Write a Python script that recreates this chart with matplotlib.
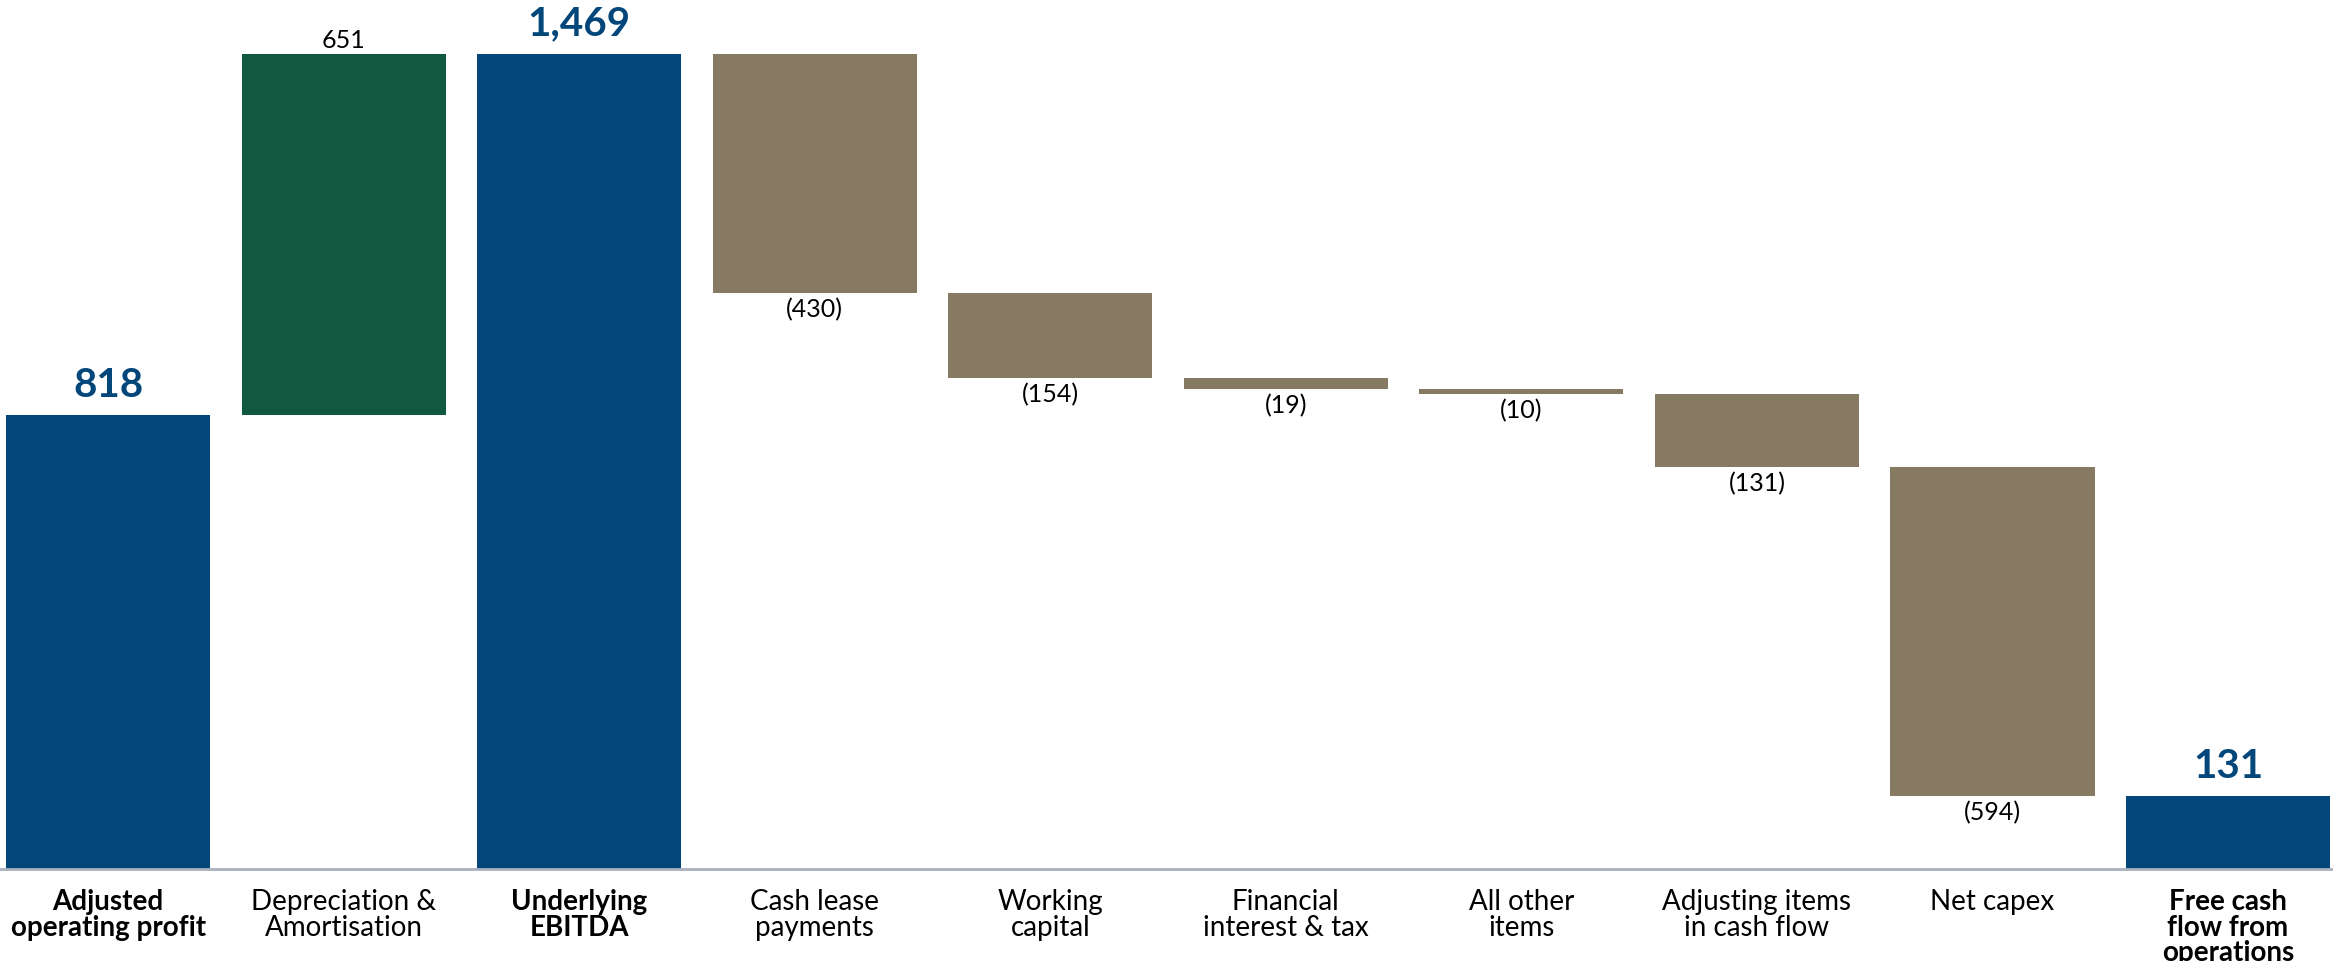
import numpy as np
import matplotlib
matplotlib.use("Agg")
import matplotlib.pyplot as plt

plt.rcParams["font.family"] = ["Lato", "DejaVu Sans"]

# Waterfall data (GBP m)
categories = [
    "Adjusted\noperating profit",
    "Depreciation &\nAmortisation",
    "Underlying\nEBITDA",
    "Cash lease\npayments",
    "Working\ncapital",
    "Financial\ninterest & tax",
    "All other\nitems",
    "Adjusting items\nin cash flow",
    "Net capex",
    "Free cash\nflow from\noperations",
]
values = [818, 651, 1469, -430, -154, -19, -10, -131, -594, 131]
is_total = [True, False, True, False, False, False, False, False, False, True]

BLUE = "#02467a"
GREEN = "#10583f"
TAN = "#867b62"

# bar bottoms / heights from running total
bottoms, heights, colors = [], [], []
running = 0
for v, tot in zip(values, is_total):
    if tot:
        bottoms.append(0)
        heights.append(v)
        colors.append(BLUE)
        running = v
    else:
        if v >= 0:
            bottoms.append(running)
            colors.append(GREEN)
        else:
            bottoms.append(running + v)
            colors.append(TAN)
        heights.append(abs(v))
        running += v

fig = plt.figure(figsize=(23.33, 9.62), dpi=100)
ax = fig.add_axes([0, (962 - 870) / 962, 1, 870 / 962])

x = np.arange(len(values))
width = 0.867
ax.bar(x, heights, width, bottom=bottoms, color=colors, zorder=2)

ax.set_xlim(-0.459, 9.446)
ax.set_ylim(0, 1568)
for s in ax.spines.values():
    s.set_visible(False)
ax.axhline(0, color="#aab1bd", lw=2, zorder=3, clip_on=False)
ax.set_xticks([])
ax.set_yticks([])

# value labels
for i, (v, tot) in enumerate(zip(values, is_total)):
    top = bottoms[i] + heights[i]
    if tot:
        ax.annotate(f"{v:,}", (x[i], top), xytext=(0, 9), textcoords="offset points",
                    ha="center", va="bottom", fontsize=29, fontweight="bold", color=BLUE)
    elif v >= 0:
        ax.annotate(f"{v:,}", (x[i], top), xytext=(0, 2), textcoords="offset points",
                    ha="center", va="bottom", fontsize=18, color="black")
    else:
        ax.annotate(f"({abs(v):,})", (x[i], bottoms[i]), xytext=(0, -3), textcoords="offset points",
                    ha="center", va="top", fontsize=18, color="black")

# category labels under the axis line
for i, lab in enumerate(categories):
    ax.annotate(lab, (x[i], 0), xytext=(0, -14), textcoords="offset points",
                ha="center", va="top", fontsize=20, linespacing=0.97,
                fontweight="bold" if is_total[i] else "normal", color="black",
                annotation_clip=False)

fig.savefig("out.png", dpi=100)
